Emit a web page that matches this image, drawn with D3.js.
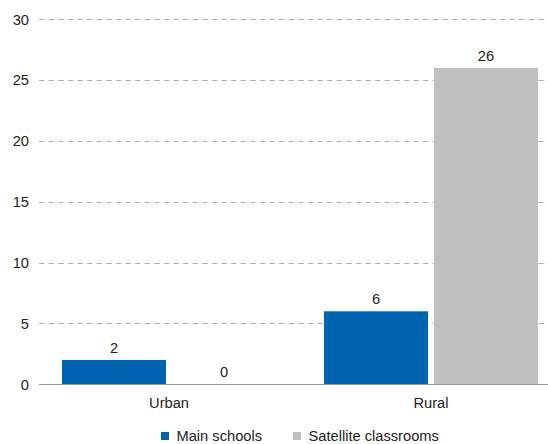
<!DOCTYPE html>
<html><head><meta charset="utf-8">
<script src="https://cdn.jsdelivr.net/npm/d3@7"></script>
<style>body{margin:0;background:#fff}svg{display:block;font-family:"Liberation Sans",Arial,sans-serif}</style>
</head><body><svg id="c" width="548" height="444"></svg>
<script>
const categories = ["Urban", "Rural"];
const seriesNames = ["Main schools", "Satellite classrooms"];
const mainSchools = [2, 6];
const satelliteClassrooms = [0, 26];
const yTicks = [0, 5, 10, 15, 20, 25, 30];
const colors = ["#0063AF", "#C0C0C0"];

const FS = 14.67;
const svg = d3.select("#c");
const y = d3.scaleLinear().domain([0, 30]).range([384.3, 19.3]);
const x0 = d3.scaleBand().domain(categories).range([38, 562]);
const x1 = d3.scaleBand().domain(seriesNames).range([24, 238]).paddingInner(0.0545);
const gridX1 = 39, gridX2 = 548;

// grid
svg.append("g").selectAll("line").data(yTicks.filter(d => d > 0)).join("line")
  .attr("x1", gridX1).attr("x2", gridX2)
  .attr("y1", d => Math.round(y(d)) + 0.5).attr("y2", d => Math.round(y(d)) + 0.5)
  .attr("stroke", "#b0b0b0").attr("stroke-dasharray", "5.5,4.1");

// y axis labels
const yAxis = d3.axisLeft(y).tickValues(yTicks).tickSize(0).tickPadding(0);
const ya = svg.append("g").attr("transform", "translate(29,0)").call(yAxis);
ya.select(".domain").remove();
ya.selectAll("text").attr("font-size", FS).attr("fill", "#222").attr("font-family", "Liberation Sans, Arial, sans-serif");

// bars
const data = categories.map((c, i) => ({cat: c, vals: [mainSchools[i], satelliteClassrooms[i]]}));
const groups = svg.append("g").selectAll("g").data(data).join("g")
  .attr("transform", d => `translate(${x0(d.cat)},0)`);
groups.selectAll("rect").data(d => d.vals.map((v, j) => ({v, s: seriesNames[j], j}))).join("rect")
  .attr("x", d => x1(d.s)).attr("width", x1.bandwidth())
  .attr("y", d => y(d.v)).attr("height", d => y(0) - y(d.v))
  .attr("fill", d => colors[d.j]);
groups.selectAll("text").data(d => d.vals.map((v, j) => ({v, s: seriesNames[j], j}))).join("text")
  .attr("x", d => x1(d.s) + x1.bandwidth() / 2).attr("y", d => y(d.v) - 7)
  .attr("text-anchor", "middle").attr("font-size", FS).attr("fill", "#222")
  .text(d => d.v);

// x axis baseline
svg.append("line").attr("x1", gridX1).attr("x2", gridX2)
  .attr("y1", Math.round(y(0)) + 0.5).attr("y2", Math.round(y(0)) + 0.5)
  .attr("stroke", "#999");

// category labels
const xAxis = d3.axisBottom(x0).tickSize(0).tickPadding(0);
const xa = svg.append("g").attr("transform", "translate(0,398)").call(xAxis);
xa.select(".domain").remove();
xa.selectAll("text").attr("font-size", FS).attr("fill", "#222").attr("font-family", "Liberation Sans, Arial, sans-serif");

// legend
const legX = [161, 293];
const leg = svg.append("g").selectAll("g").data(seriesNames).join("g")
  .attr("transform", (d, i) => `translate(${legX[i]},432)`);
leg.append("rect").attr("width", 8).attr("height", 8).attr("fill", (d, i) => colors[i]);
leg.append("text").attr("x", 15.5).attr("y", 9).attr("font-size", FS).attr("fill", "#222").text(d => d);
</script></body></html>
